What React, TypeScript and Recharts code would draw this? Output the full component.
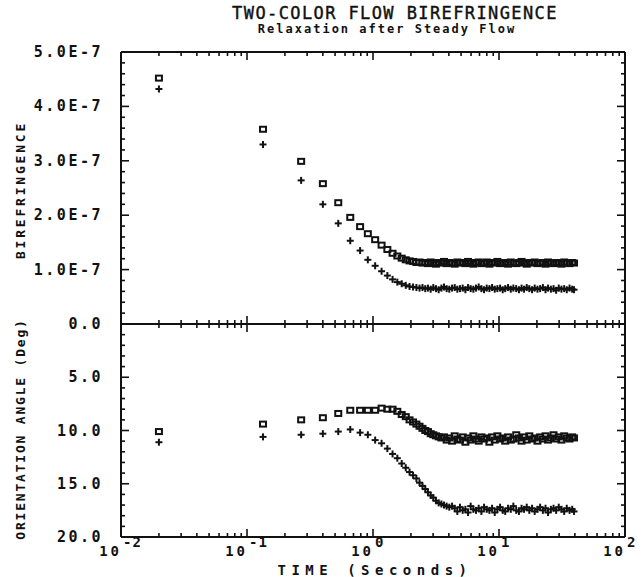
import React from "react"
import { ScatterChart, Scatter, XAxis, YAxis } from "recharts"

// sample times (s) — the recorder sampled about every 0.13 s
const TIME = [
  0.02, 0.134, 0.269, 0.40, 0.53, 0.66, 0.79, 0.91, 1.04, 1.17,
  1.30, 1.43, 1.56, 1.69, 1.82, 1.95, 2.08, 2.21, 2.34, 2.47,
  2.6, 2.73, 2.87, 3.01, 3.16, 3.32, 3.49, 3.66, 3.84, 4.03,
  4.24, 4.45, 4.67, 4.90, 5.15, 5.41, 5.68, 5.96, 6.26, 6.57,
  6.90, 7.25, 7.61, 7.99, 8.39, 8.81, 9.25, 9.71, 10.2, 10.7,
  11.2, 11.8, 12.4, 13.0, 13.7, 14.4, 15.1, 15.8, 16.6, 17.4,
  18.3, 19.2, 20.2, 21.2, 22.3, 23.4, 24.5, 25.8, 27.1, 28.4,
  29.8, 31.3, 32.9, 34.5, 36.3, 38.1, 39.4,
]

// birefringence, in units of 1e-7
const BIREF_SQUARE = [
  4.52, 3.58, 2.99, 2.58, 2.23, 1.96, 1.79, 1.66, 1.55, 1.45,
  1.37, 1.30, 1.25, 1.21, 1.18, 1.16, 1.15, 1.13, 1.14, 1.12,
  1.13, 1.11, 1.14, 1.12, 1.10, 1.13, 1.12, 1.15, 1.11, 1.13,
  1.12, 1.10, 1.14, 1.12, 1.13, 1.11, 1.15, 1.12, 1.10, 1.13,
  1.14, 1.11, 1.12, 1.14, 1.10, 1.13, 1.12, 1.15, 1.11, 1.12,
  1.13, 1.10, 1.14, 1.12, 1.11, 1.13, 1.15, 1.12, 1.10, 1.13,
  1.12, 1.14, 1.11, 1.12, 1.13, 1.10, 1.14, 1.12, 1.11, 1.13,
  1.12, 1.10, 1.14, 1.12, 1.11, 1.13, 1.12,
]
const BIREF_PLUS = [
  4.32, 3.30, 2.64, 2.20, 1.85, 1.53, 1.35, 1.18, 1.07, 0.97,
  0.89, 0.82, 0.77, 0.74, 0.71, 0.69, 0.68, 0.67, 0.66, 0.67,
  0.65, 0.66, 0.64, 0.67, 0.65, 0.63, 0.66, 0.68, 0.65, 0.64,
  0.66, 0.67, 0.64, 0.65, 0.66, 0.63, 0.67, 0.65, 0.64, 0.66,
  0.68, 0.65, 0.63, 0.66, 0.65, 0.67, 0.64, 0.65, 0.66, 0.63,
  0.65, 0.67, 0.64, 0.66, 0.65, 0.63, 0.66, 0.64, 0.67, 0.65,
  0.63, 0.66, 0.64, 0.65, 0.67, 0.63, 0.66, 0.64, 0.65, 0.62,
  0.66, 0.64, 0.65, 0.63, 0.66, 0.64, 0.63,
]

// orientation angle (deg)
const ANGLE_SQUARE = [
  10.1, 9.4, 9.0, 8.8, 8.4, 8.1, 8.1, 8.1, 8.1, 7.9,
  8.0, 8.0, 8.2, 8.5, 8.7, 9.0, 9.2, 9.4, 9.6, 9.8,
  10.0, 10.1, 10.3, 10.4, 10.5, 10.6, 10.7, 10.6, 10.9, 10.7,
  11.0, 10.5, 10.8, 10.9, 10.6, 11.1, 10.7, 10.9, 10.5, 10.8,
  11.0, 10.6, 10.8, 10.7, 11.1, 10.6, 10.9, 10.5, 10.8, 10.7,
  11.0, 10.6, 10.9, 10.8, 10.4, 10.7, 11.0, 10.6, 10.9, 10.5,
  10.8, 10.7, 11.0, 10.6, 10.8, 10.5, 10.9, 10.7, 10.4, 10.8,
  10.6, 10.9, 10.5, 10.7, 10.8, 10.6, 10.7,
]
const ANGLE_PLUS = [
  11.1, 10.6, 10.4, 10.3, 10.1, 9.9, 10.2, 10.4, 10.9, 11.2,
  11.7, 12.2, 12.6, 13.1, 13.5, 13.9, 14.2, 14.5, 14.9, 15.2,
  15.5, 15.8, 16.1, 16.3, 16.6, 16.8, 16.9, 17.0, 17.1, 17.2,
  17.1, 17.3, 17.6, 17.2, 17.5, 17.4, 17.7, 17.1, 17.4, 17.5,
  17.3, 17.6, 17.2, 17.4, 17.5, 17.3, 17.7, 17.4, 17.2, 17.5,
  17.6, 17.3, 17.4, 17.1, 17.5, 17.6, 17.3, 17.4, 17.2, 17.5,
  17.3, 17.6, 17.4, 17.2, 17.5, 17.3, 17.7, 17.4, 17.3, 17.5,
  17.2, 17.4, 17.6, 17.3, 17.5, 17.4, 17.6,
]

const X_DECADES = [0.01, 0.1, 1, 10, 100]
const X_EXPONENTS = ["-2", "-1", "0", "1", "2"]
const BIREF_MAJOR = [0, 1, 2, 3, 4, 5]
const ANGLE_MAJOR = [0, 5, 10, 15, 20]

// minor ticks: 1..9 per decade, 0.2 steps, 1 deg steps
const X_TICKS = X_DECADES.slice(0, 4)
  .flatMap((d) => [1, 2, 3, 4, 5, 6, 7, 8, 9].map((k) => +(d * k).toPrecision(3)))
  .concat([100])
const BIREF_TICKS = Array.from({ length: 26 }, (_, i) => +(i * 0.2).toFixed(1))
const ANGLE_TICKS = Array.from({ length: 21 }, (_, i) => i)

const INK = "#111"
const FONT = "'DejaVu Sans Mono', monospace"
const MAJ = 8
const MIN = 4

const topData = {
  sq: TIME.map((t, i) => ({ t, v: BIREF_SQUARE[i] })),
  pl: TIME.map((t, i) => ({ t, v: BIREF_PLUS[i] })),
}
const botData = {
  sq: TIME.map((t, i) => ({ t, v: ANGLE_SQUARE[i] })),
  pl: TIME.map((t, i) => ({ t, v: ANGLE_PLUS[i] })),
}

const Square = (p: any) => (
  <rect x={p.cx - 3} y={p.cy - 2.5} width={6} height={5} fill="none" stroke={INK} strokeWidth={2} />
)
const Plus = (p: any) => (
  <g stroke={INK} strokeWidth={2}>
    <line x1={p.cx - 3.5} x2={p.cx + 3.5} y1={p.cy} y2={p.cy} />
    <line x1={p.cx} x2={p.cx} y1={p.cy - 3.5} y2={p.cy + 3.5} />
  </g>
)
const Nothing = () => <g />

const decadeIndex = (v: number) => X_DECADES.findIndex((d) => Math.abs(d - v) < d * 1e-6)

// x ticks drawn inward; dir = +1 draws downward, -1 upward
function xTick(dir: number, labels: boolean) {
  return (p: any) => {
    const idx = decadeIndex(p.payload.value)
    const major = idx >= 0
    const len = major ? MAJ : MIN
    return (
      <g>
        <line x1={p.x} x2={p.x} y1={p.y} y2={p.y + dir * len} stroke={INK} strokeWidth={1.6} />
        {labels && major && (
          <g fontFamily={FONT} fontWeight="bold" fill={INK}>
            <text x={p.x + 1} y={p.y + 19} textAnchor="end" fontSize={14} letterSpacing={3}>10</text>
            <text x={p.x + 2} y={p.y + 10} textAnchor="start" fontSize={14} letterSpacing={1}>{X_EXPONENTS[idx]}</text>
          </g>
        )}
      </g>
    )
  }
}

function yTick(dir: number, majors: number[], fmt: ((v: number) => string) | null) {
  return (p: any) => {
    const v = p.payload.value
    const major = majors.some((m) => Math.abs(m - v) < 1e-6)
    const len = major ? MAJ : MIN
    const label = fmt && major ? fmt(v) : ""
    return (
      <g>
        <line x1={p.x} x2={p.x + dir * len} y1={p.y} y2={p.y} stroke={INK} strokeWidth={1.6} />
        {label && (
          <text x={p.x - 18} y={p.y + 5} textAnchor="end" fontFamily={FONT} fontWeight="bold"
            fontSize={15} letterSpacing={2.5} fill={INK}>
            {label}
          </text>
        )}
      </g>
    )
  }
}

const axisLine = { stroke: INK, strokeWidth: 2 }
const xCommon = {
  type: "number" as const,
  dataKey: "t",
  scale: "log" as const,
  domain: [0.01, 100],
  allowDataOverflow: true,
  ticks: X_TICKS,
  interval: 0,
  tickSize: 0,
  tickMargin: 0,
  tickLine: false,
  axisLine,
  height: 1,
}

function Panel({ data, yDomain, yTicks, majors, fmt, reversed, top, height, margin, xLabels }: any) {
  const yCommon = {
    type: "number" as const,
    dataKey: "v",
    domain: yDomain,
    allowDataOverflow: true,
    ticks: yTicks,
    interval: 0,
    tickSize: 0,
    tickMargin: 0,
    tickLine: false,
    axisLine,
    reversed,
  }
  return (
    <div style={{ position: "absolute", left: 0, top }}>
      <ScatterChart width={641} height={height} margin={margin}>
        <XAxis {...xCommon} xAxisId="b" orientation="bottom" tick={xTick(-1, xLabels)} />
        <XAxis {...xCommon} xAxisId="t" orientation="top" tick={xTick(1, false)} />
        <YAxis {...yCommon} yAxisId="l" orientation="left" width={121} tick={yTick(1, majors, fmt)} />
        <YAxis {...yCommon} yAxisId="r" orientation="right" width={1} tick={yTick(-1, majors, null)} />
        <Scatter data={data.sq} xAxisId="b" yAxisId="l" shape={Square} isAnimationActive={false} />
        <Scatter data={data.pl} xAxisId="b" yAxisId="l" shape={Plus} isAnimationActive={false} />
        {/* binds the top and right frame axes to the same scales */}
        <Scatter data={data.sq} xAxisId="t" yAxisId="r" shape={Nothing} isAnimationActive={false} />
      </ScatterChart>
    </div>
  )
}

export default function App() {
  return (
    <div style={{ position: "absolute", left: 0, top: 0, width: 641, height: 577, background: "#fff" }}>
      <Panel
        data={botData}
        yDomain={[0, 20]}
        yTicks={ANGLE_TICKS}
        majors={ANGLE_MAJOR}
        fmt={(v: number) => (v === 0 ? "" : v.toFixed(1))}
        reversed={true}
        top={300}
        height={277}
        margin={{ top: 23, right: 15, bottom: 39, left: 0 }}
        xLabels={true}
      />
      <Panel
        data={topData}
        yDomain={[0, 5]}
        yTicks={BIREF_TICKS}
        majors={BIREF_MAJOR}
        fmt={(v: number) => (v === 0 ? "0.0" : `${v.toFixed(1)}E-7`)}
        reversed={false}
        top={0}
        height={345}
        margin={{ top: 51, right: 15, bottom: 20, left: 0 }}
        xLabels={false}
      />
      <svg width={641} height={577} style={{ position: "absolute", left: 0, top: 0, pointerEvents: "none" }}
        fontFamily={FONT} fill={INK}>
        <text x={395} y={19} textAnchor="middle" fontSize={17} letterSpacing={1.4}
          stroke={INK} strokeWidth={0.4}>
          TWO-COLOR FLOW BIREFRINGENCE
        </text>
        <text x={387} y={33} textAnchor="middle" fontSize={12} fontWeight="bold" letterSpacing={2}>
          Relaxation after Steady Flow
        </text>
        <text transform="translate(25,190) rotate(-90)" textAnchor="middle" fontSize={13}
          fontWeight="bold" letterSpacing={2.8}>
          BIREFRINGENCE
        </text>
        <text transform="translate(25,429) rotate(-90)" textAnchor="middle" fontSize={13}
          fontWeight="bold" letterSpacing={1.8}>
          ORIENTATION ANGLE (Deg)
        </text>
        <text x={375} y={575} textAnchor="middle" fontSize={14} fontWeight="bold" letterSpacing={5.5}>
          TIME (Seconds)
        </text>
      </svg>
    </div>
  )
}
